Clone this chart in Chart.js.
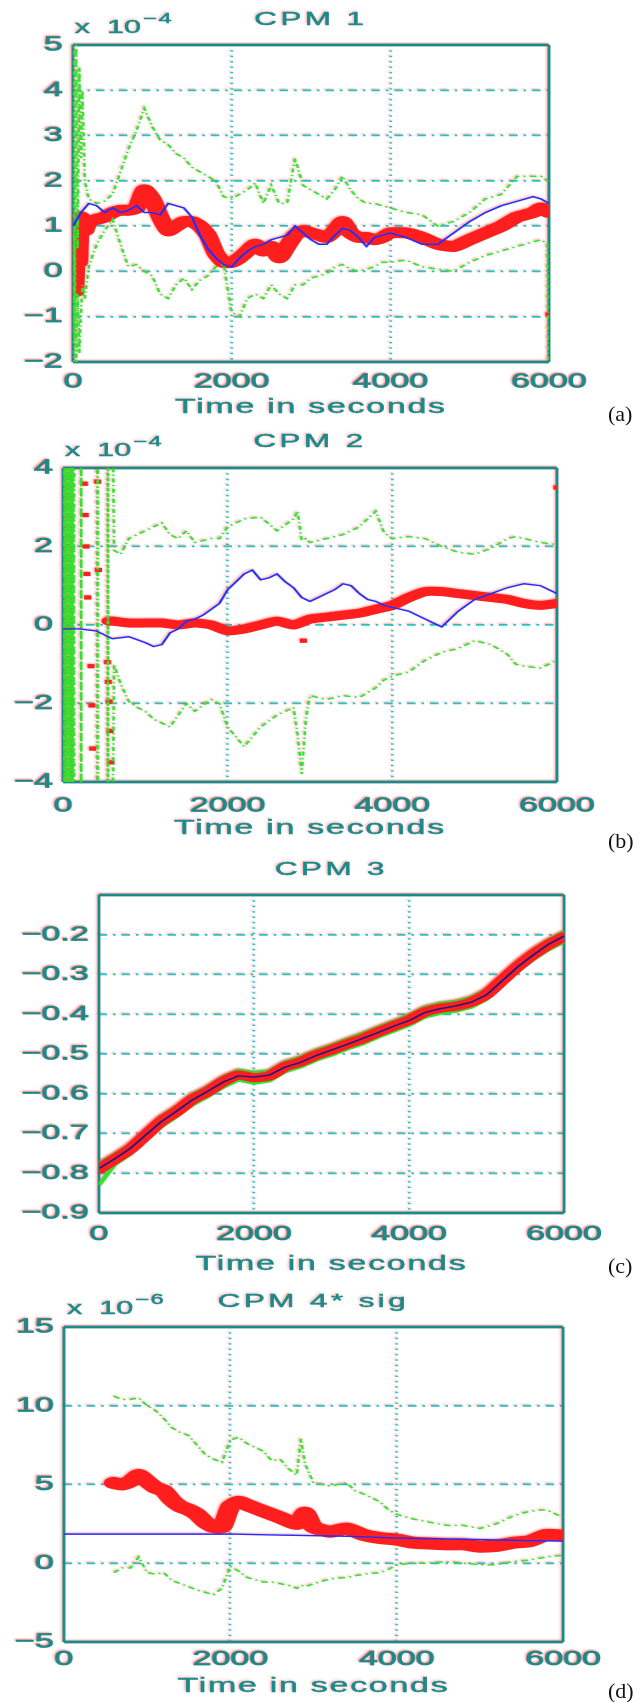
<!DOCTYPE html>
<html lang="en">
<head>
<meta charset="UTF-8">
<title>CPM estimates over time</title>
<script src="https://cdn.jsdelivr.net/npm/chart.js"></script>
<style>
  html, body { margin: 0; padding: 0; background: #fff; overflow: hidden; }
  body { width: 642px; height: 1702px; position: relative; }
  /* the original figure is stretched sideways, so the whole plot stage is too */
  #stage { position: absolute; left: 0; top: 0; width: 378px; height: 1702px;
           transform: scaleX(1.7); transform-origin: 0 0; }
  #stage canvas { position: absolute; left: 0; }
  .txt { position: absolute; font-family: "Liberation Sans", Arial, sans-serif; color: #1a8a8a;
         line-height: 1; white-space: nowrap; -webkit-text-stroke: 0.45px #1a8a8a;
         text-shadow: -1px -1px 2px rgba(255, 60, 60, 0.45); }
  .title { font-size: 18.5px; letter-spacing: 2px; text-align: center; }
  .xlab { font-size: 20px; letter-spacing: 1px; text-align: center; }
  .expo { font-size: 18px; }
  .expo sup { font-size: 14px; position: relative; top: -10px; vertical-align: baseline; margin-left: 1px; letter-spacing: 1px; }
  .tag { position: absolute; left: 608px; font-family: "Liberation Serif", "Times New Roman", serif;
         font-size: 22px; line-height: 1; color: #111; }
</style>
</head>
<body>
<div id="stage">
  <canvas id="c1" width="378" height="420" style="top:0px"></canvas>
  <canvas id="c2" width="378" height="420" style="top:420px"></canvas>
  <canvas id="c3" width="378" height="420" style="top:840px"></canvas>
  <canvas id="c4" width="378" height="442" style="top:1260px"></canvas>

  <div class="txt title" style="left:42.9px;width:280px;top:10.3px">CPM 1</div>
  <div class="txt expo" style="left:44px;top:17.8px">x<span style="margin-left:10px">10</span><sup>−4</sup></div>
  <div class="txt xlab" style="left:42.9px;width:280px;top:396px">Time in seconds</div>

  <div class="txt title" style="left:37.1px;width:290.5px;top:432.3px">CPM 2</div>
  <div class="txt expo" style="left:38.2px;top:440.8px">x<span style="margin-left:10px">10</span><sup>−4</sup></div>
  <div class="txt xlab" style="left:37.1px;width:290.5px;top:816.5px">Time in seconds</div>

  <div class="txt title" style="left:58.2px;width:273.6px;top:860.3px">CPM 3</div>
  <div class="txt xlab" style="left:58.2px;width:273.6px;top:1252.5px">Time in seconds</div>

  <div class="txt title" style="left:37.6px;width:293.6px;top:1292.3px">CPM 4* sig</div>
  <div class="txt expo" style="left:39.4px;top:1298.8px">x<span style="margin-left:10px">10</span><sup>−6</sup></div>
  <div class="txt xlab" style="left:37.6px;width:293.6px;top:1674.5px">Time in seconds</div>
</div>
<div class="tag" style="top:402.6px">(a)</div>
<div class="tag" style="top:829.6px">(b)</div>
<div class="tag" style="top:1254.6px">(c)</div>
<div class="tag" style="top:1679.6px">(d)</div>

<script>
// ---- CPM 1 (x 1e-4) ----
const p1RedT = [0,25,50,75,100,150,200,300,400,500,600,700,800,900,1000,1100,1200,1300,1400,1500,1600,1700,1800,1900,2000,2100,2200,2300,2400,2500,2600,2700,2800,2900,3000,3100,3200,3300,3400,3500,3600,3700,3800,3900,4000,4200,4400,4600,4800,5000,5200,5400,5600,5800,5900,6000];
const p1Red = [0.0,-0.45,0.9,0.2,1.2,0.9,1.1,1.15,1.2,1.3,1.35,1.35,1.4,1.8,1.6,1.2,0.9,1.0,1.1,1.1,1.0,0.8,0.4,0.2,0.2,0.3,0.45,0.6,0.45,0.55,0.3,0.55,0.8,0.9,0.85,0.8,0.75,0.9,1.1,0.85,0.75,0.75,0.7,0.75,0.85,0.85,0.75,0.6,0.55,0.7,0.85,1.0,1.2,1.3,1.4,1.3];
const p1RedDotT = [6000];
const p1RedDot = [-0.95];
const p1BlueT = [0,100,200,300,400,500,600,700,800,900,1000,1100,1200,1300,1400,1500,1600,1700,1800,1900,2000,2100,2200,2300,2400,2500,2600,2700,2800,2900,3000,3100,3200,3300,3400,3500,3600,3700,3800,3900,4000,4200,4400,4600,4800,5000,5200,5400,5600,5800,5900,6000];
const p1Blue = [1.0,1.3,1.5,1.45,1.3,1.4,1.3,1.35,1.45,1.3,1.3,1.25,1.5,1.45,1.4,1.2,0.8,0.5,0.3,0.15,0.1,0.3,0.45,0.55,0.6,0.7,0.75,0.8,1.0,0.85,0.7,0.6,0.6,0.8,0.95,0.9,0.75,0.55,0.75,0.8,0.85,0.75,0.6,0.6,0.85,1.1,1.3,1.45,1.55,1.65,1.6,1.5];
const p1BoundT = [0,20,40,60,80,100,120,150,200,300,400,500,600,700,800,900,1000,1100,1200,1300,1400,1500,1600,1700,1800,1900,2000,2100,2200,2300,2400,2500,2600,2700,2800,2900,3000,3100,3200,3300,3400,3500,3600,3700,3800,3900,4000,4200,4400,4600,4800,5000,5200,5400,5600,5800,5900,5980,6000];
const p1Upper = [6,-1.5,5.5,0.5,4.5,2.5,4.0,2.0,1.6,1.5,1.55,1.7,2.2,2.7,3.1,3.6,3.2,2.9,2.8,2.6,2.5,2.3,2.2,2.1,2.0,1.65,1.6,1.7,1.8,1.95,1.5,1.9,1.5,1.5,2.5,1.9,1.8,1.7,1.6,1.8,2.1,1.8,1.6,1.5,1.5,1.45,1.4,1.3,1.25,1.0,1.1,1.3,1.6,1.7,2.1,2.1,2.1,2.0,2.0];
const p1Lower = [-2.5,1.0,-2.2,-0.5,-1.8,-1.0,-0.3,-0.6,0.1,0.6,0.9,1.15,0.6,0.1,0.15,0.0,-0.1,-0.5,-0.6,-0.3,-0.15,-0.4,-0.2,-0.1,0.1,0.15,-0.9,-1.0,-0.6,-0.5,-0.6,-0.3,-0.5,-0.6,-0.3,-0.3,-0.15,-0.1,-0.05,0.1,0.15,0.05,0.0,0.05,0.1,0.2,0.2,0.25,0.1,0.05,0.0,0.2,0.35,0.45,0.55,0.65,0.7,0.6,-2.5];
const p1Ticks = [-2, 5, 1];

// ---- CPM 2 (x 1e-4) ----
const p2RedT = [560,600,800,1000,1200,1400,1600,1800,2000,2200,2400,2600,2800,3000,3200,3400,3600,3800,4000,4200,4400,4600,4800,5000,5200,5400,5600,5800,6000];
const p2Red = [0.1,0.1,0.05,0.05,0.05,0.0,0.05,0.0,-0.15,-0.1,0.0,0.1,0.0,0.15,0.2,0.25,0.3,0.4,0.5,0.7,0.85,0.85,0.8,0.75,0.7,0.65,0.55,0.5,0.55];
const p2RedDotT = [260,270,280,290,300,340,350,360,420,430,540,550,560,570,580,2920,6000];
const p2RedDot = [3.6,2.8,2.0,1.3,0.7,-1.05,-2.05,-3.15,3.65,1.4,-0.95,-1.45,-1.95,-2.7,-3.5,-0.4,3.5];
const p2BlueT = [0,200,400,600,800,1000,1100,1200,1300,1400,1500,1600,1700,1800,1900,2000,2100,2200,2300,2400,2500,2600,2700,2800,2900,3000,3100,3200,3300,3400,3500,3600,3700,3800,3900,4000,4200,4400,4500,4600,4700,4800,5000,5200,5400,5600,5800,6000];
const p2Blue = [-0.1,-0.1,-0.15,-0.35,-0.3,-0.45,-0.55,-0.5,-0.2,-0.1,0.1,0.15,0.25,0.4,0.55,0.9,1.1,1.3,1.4,1.15,1.2,1.3,1.1,0.95,0.7,0.6,0.7,0.8,0.9,1.05,1.0,0.8,0.65,0.6,0.5,0.45,0.35,0.15,0.05,-0.05,0.15,0.35,0.65,0.8,0.95,1.05,1.0,0.8];
const p2BoundT = [0,15,30,45,60,75,90,105,120,140,220,222,420,422,545,547,600,620,700,800,900,1000,1100,1200,1300,1400,1500,1600,1800,1900,2000,2200,2400,2600,2800,2850,2900,2950,3000,3200,3400,3600,3800,3900,4000,4200,4400,4600,4800,5000,5200,5400,5500,5600,5800,6000];
const p2Upper = [6,-6,6,-6,6,-6,6,-6,6,-6,-6,6,6,-6,-6,6,6,1.9,1.8,2.2,2.3,2.4,2.5,2.6,2.3,2.2,2.4,2.1,2.2,2.2,2.5,2.7,2.75,2.4,2.7,2.9,2.15,2.2,2.1,2.2,2.3,2.5,2.9,2.35,2.2,2.25,2.2,2.0,1.85,1.8,1.95,2.2,2.25,2.2,2.1,2.05];
const p2Lower = [-6,6,-6,6,-6,6,-6,6,-6,6,6,-6,-6,6,6,-6,-6,-1.0,-1.5,-1.95,-2.1,-2.2,-2.4,-2.5,-2.6,-2.3,-2.0,-2.2,-1.9,-2.0,-2.6,-3.1,-2.6,-2.3,-2.1,-2.8,-3.8,-2.4,-1.8,-1.9,-1.8,-1.85,-1.6,-1.4,-1.3,-1.2,-0.9,-0.7,-0.6,-0.4,-0.5,-0.75,-1.0,-1.05,-1.1,-0.9];
const p2Ticks = [-4, 4, 2];

// ---- CPM 3 ----
const p3T = [0,200,400,600,800,1000,1200,1400,1600,1800,2000,2200,2400,2600,2800,3000,3200,3400,3600,3800,4000,4200,4400,4600,4800,5000,5200,5400,5600,5800,6000];
const p3Red = [-0.79,-0.765,-0.74,-0.705,-0.67,-0.645,-0.615,-0.595,-0.57,-0.553,-0.56,-0.555,-0.532,-0.52,-0.503,-0.49,-0.475,-0.462,-0.445,-0.43,-0.415,-0.395,-0.385,-0.38,-0.37,-0.35,-0.315,-0.28,-0.25,-0.225,-0.205];
const p3Blue = [-0.788,-0.764,-0.738,-0.704,-0.671,-0.644,-0.616,-0.594,-0.571,-0.555,-0.558,-0.553,-0.533,-0.521,-0.504,-0.49,-0.476,-0.461,-0.446,-0.43,-0.416,-0.396,-0.386,-0.379,-0.37,-0.351,-0.316,-0.281,-0.251,-0.224,-0.203];
const p3Upper = [-0.775,-0.752,-0.727,-0.692,-0.656,-0.632,-0.601,-0.582,-0.557,-0.54,-0.546,-0.542,-0.519,-0.507,-0.49,-0.477,-0.462,-0.448,-0.432,-0.417,-0.402,-0.382,-0.372,-0.367,-0.357,-0.337,-0.302,-0.267,-0.237,-0.212,-0.192];
const p3Lower = [-0.83,-0.779,-0.753,-0.718,-0.684,-0.658,-0.629,-0.608,-0.584,-0.566,-0.574,-0.568,-0.545,-0.533,-0.516,-0.503,-0.488,-0.475,-0.458,-0.443,-0.428,-0.408,-0.398,-0.393,-0.383,-0.363,-0.328,-0.293,-0.263,-0.238,-0.218];
const p3Ticks = [-0.9, -0.1, 0.1];

// ---- CPM 4* sig (x 1e-6) ----
const p4RedT = [600,700,800,900,1000,1100,1200,1300,1400,1500,1600,1700,1800,1900,2000,2100,2200,2400,2600,2800,2900,3000,3200,3400,3600,3800,4000,4200,4400,4600,4800,5000,5200,5400,5600,5800,6000];
const p4Red = [5.1,5.0,5.2,5.6,5.2,4.8,4.6,4.0,3.6,3.4,3.1,2.6,2.3,2.3,3.6,3.9,3.7,3.3,2.9,2.5,3.2,2.3,2.0,2.2,1.8,1.6,1.5,1.3,1.25,1.2,1.2,1.05,1.1,1.3,1.4,1.8,1.75];
const p4BlueT = [0,1000,2000,2500,3000,3500,4000,4500,5000,5500,6000];
const p4Blue = [1.85,1.85,1.85,1.8,1.75,1.7,1.6,1.55,1.5,1.45,1.4];
const p4BoundT = [600,700,800,900,1000,1100,1200,1300,1400,1500,1600,1700,1800,1900,2000,2100,2200,2400,2500,2600,2700,2800,2850,2900,3000,3200,3400,3500,3600,3800,3900,4000,4200,4400,4600,4800,5000,5200,5400,5600,5800,6000];
const p4Upper = [10.6,10.4,10.4,10.5,10.0,9.7,9.2,8.6,8.3,8.1,7.5,6.9,6.6,6.4,7.8,8.0,7.6,7.1,6.5,6.6,6.0,5.6,7.9,6.3,5.1,4.9,5.1,4.6,4.4,3.9,3.4,3.1,2.8,2.6,2.4,2.4,2.2,2.5,3.0,3.3,3.4,2.9];
const p4Lower = [-0.6,-0.3,-0.3,0.4,-0.6,-0.7,-0.6,-1.1,-1.3,-1.5,-1.7,-1.85,-2.0,-1.6,-0.2,-0.5,-0.9,-1.2,-1.2,-1.3,-1.4,-1.6,-1.4,-1.5,-1.3,-1.0,-0.9,-0.8,-0.7,-0.6,-0.4,-0.1,0.0,0.0,0.1,0.0,-0.1,-0.1,0.1,0.2,0.4,0.5];
const p4Ticks = [-5, 15, 5];

const timeTicks = [0, 6000, 2000];

// colours
const TEAL = '#1a8a8a';
const GRID = '#22c4c4';
const RED = '#ff1e1e';
const GREEN = '#2ee62e';
const BLUE = '#1f2dff';
const NAVY = '#1a1a80';

const pts = (t, v) => t.map((x, i) => ({ x: x, y: v[i] }));

function tickText(v) {
  const r = Math.round(v * 10) / 10;
  if (r === 0) return '0';
  return (r < 0 ? '\u2212' : '') + String(Math.abs(r));
}

const frame = {
  id: 'frame',
  beforeDraw(chart) {
    const c = chart.ctx;
    c.shadowColor = 'rgba(255,50,50,0.4)';
    c.shadowBlur = 3; c.shadowOffsetX = -1.5; c.shadowOffsetY = -2;
  },
  beforeDatasetsDraw(chart) {
    const { ctx, chartArea: a } = chart;
    ctx.save();
    ctx.strokeStyle = TEAL;
    ctx.lineWidth = 2.8;
    ctx.beginPath();
    ctx.moveTo(a.left, a.top); ctx.lineTo(a.right, a.top);
    ctx.moveTo(a.left, a.bottom); ctx.lineTo(a.right, a.bottom);
    ctx.stroke();
    ctx.lineWidth = 1.7;
    ctx.beginPath();
    ctx.moveTo(a.left, a.top); ctx.lineTo(a.left, a.bottom);
    ctx.moveTo(a.right, a.top); ctx.lineTo(a.right, a.bottom);
    ctx.stroke();
    ctx.restore();
  },
  afterDraw(chart) {
    const c = chart.ctx;
    c.shadowColor = 'rgba(0,0,0,0)'; c.shadowBlur = 0; c.shadowOffsetX = 0; c.shadowOffsetY = 0;
  }
};

function red(data, w) {
  return { data, borderColor: RED, borderWidth: w, pointRadius: 0, tension: 0.2,
           borderCapStyle: 'round', borderJoinStyle: 'round' };
}
function redDots(data) {
  return { data, showLine: false, pointStyle: 'rect', pointRadius: 3,
           pointBackgroundColor: RED, pointBorderWidth: 0 };
}
function blue(data, col) {
  return { data, borderColor: col || BLUE, borderWidth: 1.4, pointRadius: 0, tension: 0 };
}
function green(data, w, dash) {
  return { data, borderColor: GREEN, borderWidth: w || 1.5, pointRadius: 0, tension: 0,
           borderDash: dash === undefined ? [4, 2.5, 1.2, 2.5] : dash };
}

function makeChart(id, box, yt, datasets, hideTop) {
  const near = (a, b) => Math.abs(a - b) < 1e-6;
  const tickFont = { family: '"Liberation Sans", Arial, sans-serif', size: 20 };
  return new Chart(document.getElementById(id), {
    type: 'line',
    data: { datasets },
    plugins: [frame],
    options: {
      responsive: false,
      devicePixelRatio: 2,
      animation: false,
      events: [],
      layout: { padding: { left: 0, top: box.top, right: box.right, bottom: 0 } },
      plugins: { legend: { display: false }, tooltip: { enabled: false } },
      scales: {
        x: {
          type: 'linear', min: timeTicks[0], max: timeTicks[1],
          afterFit: s => { s.height = box.xh; },
          ticks: { stepSize: timeTicks[2], color: TEAL, font: tickFont, padding: box.xpad,
                   textStrokeColor: TEAL, textStrokeWidth: 0.8,
                   maxRotation: 0, callback: v => String(v) },
          grid: { drawTicks: false, lineWidth: 1.6,
                  color: c => (c.tick && (near(c.tick.value, timeTicks[0]) || near(c.tick.value, timeTicks[1]))) ? 'rgba(0,0,0,0)' : GRID },
          border: { display: false, dash: [1.4, 4] }
        },
        y: {
          type: 'linear', min: yt[0], max: yt[1],
          afterFit: s => { s.width = box.left; },
          ticks: { stepSize: yt[2], color: TEAL, font: tickFont, padding: 6,
                   textStrokeColor: TEAL, textStrokeWidth: 0.8,
                   callback: v => (hideTop && near(v, yt[1])) ? '' : tickText(v) },
          grid: { drawTicks: false, lineWidth: 1.8,
                  color: c => (c.tick && (near(c.tick.value, yt[0]) || near(c.tick.value, yt[1]))) ? 'rgba(0,0,0,0)' : GRID },
          border: { display: false, dash: [5, 3.5, 1.5, 3.5] }
        }
      }
    }
  });
}

makeChart('c1', { left: 42.9, right: 55.1, top: 45, xh: 58, xpad: 8 }, p1Ticks, [
  blue(pts(p1BlueT, p1Blue)),
  green(pts(p1BoundT, p1Upper)),
  green(pts(p1BoundT, p1Lower)),
  red(pts(p1RedT, p1Red), 11),
  redDots(pts(p1RedDotT, p1RedDot))
]);

makeChart('c2', { left: 37.1, right: 50.4, top: 48, xh: 58, xpad: 12 }, p2Ticks, [
  blue(pts(p2BlueT, p2Blue)),
  green(pts(p2BoundT, p2Upper)),
  green(pts(p2BoundT, p2Lower)),
  red(pts(p2RedT, p2Red), 9),
  redDots(pts(p2RedDotT, p2RedDot))
]);

makeChart('c3', { left: 58.2, right: 46.2, top: 55, xh: 47, xpad: 9.5 }, p3Ticks, [
  blue(pts(p3T, p3Blue), NAVY),
  red(pts(p3T, p3Red), 9),
  green(pts(p3T, p3Upper), 3, []),
  green(pts(p3T, p3Lower), 3, [])
], true);

makeChart('c4', { left: 37.6, right: 46.8, top: 67, xh: 60, xpad: 5.5 }, p4Ticks, [
  blue(pts(p4BlueT, p4Blue)),
  green(pts(p4BoundT, p4Upper)),
  green(pts(p4BoundT, p4Lower)),
  red(pts(p4RedT, p4Red), 12)
]);
</script>
</body>
</html>
